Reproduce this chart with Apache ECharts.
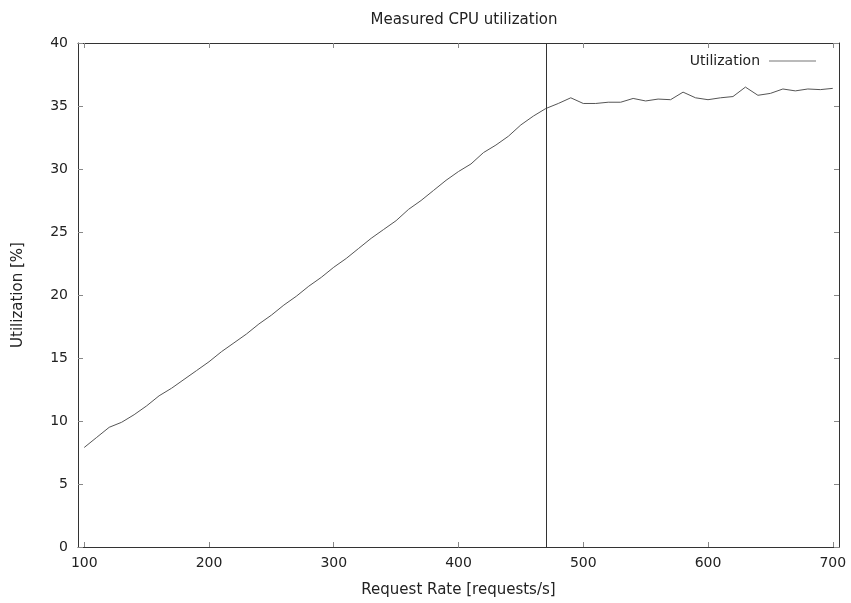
<!DOCTYPE html>
<html>
<head>
<meta charset="utf-8">
<script src="https://cdn.jsdelivr.net/npm/echarts@6/dist/echarts.min.js"></script>
<style>
  html, body { margin: 0; padding: 0; background: #fff; }
  #chart { width: 851px; height: 603px; }
</style>
</head>
<body>
<div id="chart"></div>
<script>
  // request rates (requests/s), one sample every 10
  var rates = [100, 110, 120, 130, 140, 150, 160, 170, 180, 190,
               200, 210, 220, 230, 240, 250, 260, 270, 280, 290,
               300, 310, 320, 330, 340, 350, 360, 370, 380, 390,
               400, 410, 420, 430, 440, 450, 460, 470, 480, 490,
               500, 510, 520, 530, 540, 550, 560, 570, 580, 590,
               600, 610, 620, 630, 640, 650, 660, 670, 680, 690, 700];
  // measured utilization (%)
  var utilization = [7.9, 8.7, 9.5, 9.9, 10.5, 11.2, 12.0, 12.6, 13.3, 14.0,
                     14.7, 15.5, 16.2, 16.9, 17.7, 18.4, 19.2, 19.9, 20.7, 21.4,
                     22.2, 22.9, 23.7, 24.5, 25.2, 25.9, 26.8, 27.5, 28.3, 29.1,
                     29.8, 30.4, 31.3, 31.9, 32.6, 33.5, 34.2, 34.8, 35.2, 35.65,
                     35.2, 35.2, 35.3, 35.3, 35.6, 35.4, 35.55, 35.5, 36.1, 35.65,
                     35.5, 35.65, 35.75, 36.5, 35.85, 36.0, 36.35, 36.2, 36.35, 36.3, 36.4];
  var xTicks = [100, 200, 300, 400, 500, 600, 700];
  var saturationRate = 470;

  var points = rates.map(function (r, i) { return [r, utilization[i]]; });

  var font = 'DejaVu Sans, Verdana, sans-serif';
  var textColor = '#222';
  var borderColor = '#333';
  var tickStyle = { show: true, inside: true, length: 5, lineStyle: { color: '#888', width: 1 } };

  var myChart = echarts.init(document.getElementById('chart'));

  var option = {
    backgroundColor: '#fff',
    animation: false,
    title: {
      text: 'Measured CPU utilization',
      left: 459, top: 8, textAlign: 'center',
      textStyle: { fontFamily: font, fontSize: 15, fontWeight: 'normal', color: textColor }
    },
    legend: {
      right: 30, top: 49,
      align: 'right',
      icon: 'rect',
      itemWidth: 47, itemHeight: 1, itemGap: 10,
      itemStyle: { color: '#777', borderWidth: 0 },
      textStyle: { fontFamily: font, fontSize: 14, color: textColor, padding: [0, 4, 0, 0] },
      data: ['Utilization']
    },
    grid: { left: 78, right: 12, top: 43, bottom: 56, containLabel: false },
    xAxis: [
      {
        type: 'value', min: 95, max: 705,
        name: 'Request Rate [requests/s]', nameLocation: 'middle', nameGap: 36,
        nameTextStyle: { fontFamily: font, fontSize: 15, color: textColor },
        axisLine: { show: true, onZero: false, lineStyle: { color: borderColor, width: 1 } },
        axisTick: Object.assign({ customValues: xTicks }, tickStyle),
        axisLabel: { customValues: xTicks, fontFamily: font, fontSize: 14, color: textColor, margin: 9 },
        splitLine: { show: false }
      },
      {
        type: 'value', position: 'top', min: 95, max: 705,
        axisLine: { show: true, onZero: false, lineStyle: { color: borderColor, width: 1 } },
        axisTick: Object.assign({ customValues: xTicks }, tickStyle),
        axisLabel: { show: false },
        splitLine: { show: false }
      }
    ],
    yAxis: [
      {
        type: 'value', min: 0, max: 40, interval: 5,
        name: 'Utilization [%]', nameLocation: 'middle', nameGap: 52, nameRotate: 90,
        nameTextStyle: { fontFamily: font, fontSize: 15, color: textColor },
        axisLine: { show: true, onZero: false, lineStyle: { color: borderColor, width: 1 } },
        axisTick: tickStyle,
        axisLabel: { fontFamily: font, fontSize: 14, color: textColor, margin: 10 },
        splitLine: { show: false }
      },
      {
        type: 'value', position: 'right', min: 0, max: 40, interval: 5,
        axisLine: { show: true, onZero: false, lineStyle: { color: borderColor, width: 1 } },
        axisTick: tickStyle,
        axisLabel: { show: false },
        splitLine: { show: false }
      }
    ],
    series: [
      {
        name: 'Utilization',
        type: 'line',
        data: points,
        showSymbol: false,
        symbol: 'none',
        color: '#555',
        lineStyle: { color: '#555', width: 1 },
        markLine: {
          silent: true,
          symbol: 'none',
          label: { show: false },
          lineStyle: { color: '#333', width: 1, type: 'solid' },
          data: [{ xAxis: saturationRate }]
        }
      }
    ]
  };

  myChart.setOption(option);
</script>
</body>
</html>
